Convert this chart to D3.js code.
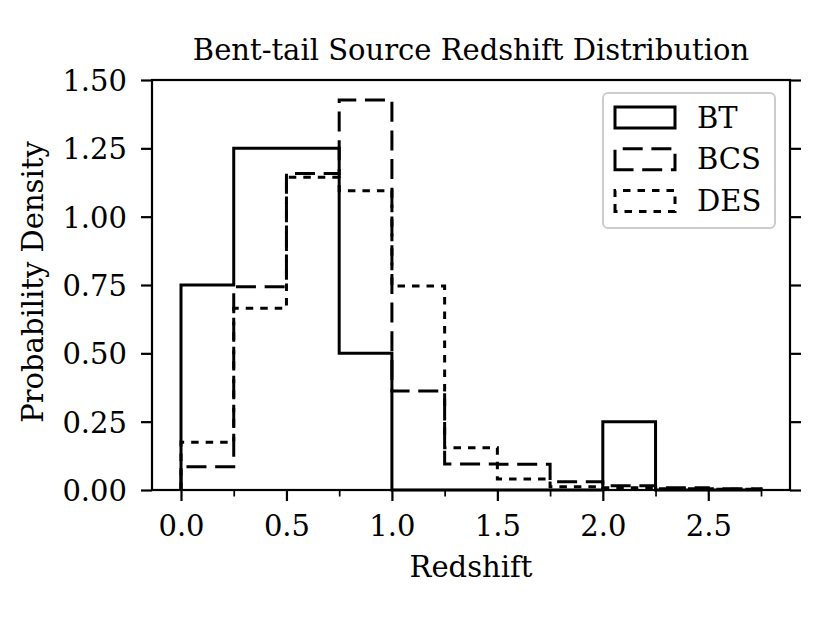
<!DOCTYPE html>
<html>
<head>
<meta charset="utf-8">
<script src="https://cdn.jsdelivr.net/npm/d3@7"></script>
<style>
  html, body { margin: 0; padding: 0; background: #fff; }
  text { font-family: "DejaVu Serif", serif; fill: #000; }
</style>
</head>
<body>
<svg id="chart" width="830" height="627"></svg>
<script>
// ---- data ----
const binEdges = [0, 0.25, 0.5, 0.75, 1.0, 1.25, 1.5, 1.75, 2.0, 2.25, 2.5, 2.75];
const seriesNames = ["BT", "BCS", "DES"];
const btValues  = [0.75, 1.25, 1.25, 0.5, 0, 0, 0, 0, 0.25, 0, 0];
const bcsValues = [0.085, 0.744, 1.158, 1.427, 0.362, 0.095, 0.094, 0.030, 0.016, 0.008, 0.005];
const desValues = [0.175, 0.665, 1.144, 1.095, 0.746, 0.155, 0.040, 0.012, 0.008, 0.005, 0.003];
const xTickValues = [0.0, 0.5, 1.0, 1.5, 2.0, 2.5];
const xMinorTickValues = [0.25, 0.75, 1.25, 1.75, 2.25, 2.75];
const yTickValues = [0.00, 0.25, 0.50, 0.75, 1.00, 1.25, 1.50];
const titleText = "Bent-tail Source Redshift Distribution";
const xLabelText = "Redshift";
const yLabelText = "Probability Density";

// ---- layout ----
const svg = d3.select("#chart");
const L = 152, R = 790, T = 80, B = 490;
const FS = 29;
const span = binEdges[binEdges.length - 1] - binEdges[0];
const x = d3.scaleLinear().domain([binEdges[0] - 0.05 * span, binEdges[binEdges.length - 1] + 0.05 * span]).range([L, R]);
const y = d3.scaleLinear().domain([0, 1.5]).range([B, T]);

const styles = {
  BT:  { dash: null },
  BCS: { dash: "20,8.7" },
  DES: { dash: "7.5,7" }
};
const series = [
  { name: "BT", values: btValues },
  { name: "BCS", values: bcsValues },
  { name: "DES", values: desValues }
];

// step outline path
function stepPoints(values) {
  const pts = [[binEdges[0], 0]];
  values.forEach((v, i) => {
    pts.push([binEdges[i], v]);
    pts.push([binEdges[i + 1], v]);
  });
  pts.push([binEdges[binEdges.length - 1], 0]);
  return pts;
}
const line = d3.line().x(d => x(d[0])).y(d => y(d[1]));

const plot = svg.append("g");
series.forEach(s => {
  plot.append("path")
    .attr("d", line(stepPoints(s.values)))
    .attr("fill", "none")
    .attr("stroke", "#000")
    .attr("stroke-width", 3)
    .attr("stroke-linejoin", "miter")
    .attr("stroke-dasharray", styles[s.name].dash);
});

// ---- axes ----
const axisW = 2.2;
const xAxis = svg.append("g").attr("transform", `translate(0,${B})`)
  .call(d3.axisBottom(x).tickValues(xTickValues).tickFormat(d3.format(".1f")).tickSize(11).tickPadding(14));
const xMinor = svg.append("g").attr("transform", `translate(0,${B})`)
  .call(d3.axisBottom(x).tickValues(xMinorTickValues).tickFormat("").tickSize(6.5));
const yAxis = svg.append("g").attr("transform", `translate(${L},0)`)
  .call(d3.axisLeft(y).tickValues(yTickValues).tickFormat(d3.format(".2f")).tickSize(11).tickPadding(14));
const yRight = svg.append("g").attr("transform", `translate(${R},0)`)
  .call(d3.axisRight(y).tickValues(yTickValues).tickFormat("").tickSize(11));

[xAxis, xMinor, yAxis, yRight].forEach(g => {
  g.select(".domain").remove();
  g.selectAll(".tick line").attr("stroke", "#000").attr("stroke-width", axisW);
  g.selectAll(".tick text").style("font-family", "DejaVu Serif").style("font-size", FS + "px").attr("fill", "#000");
});
xMinor.selectAll(".tick line").attr("stroke-width", 1.7);
yAxis.selectAll(".tick text").attr("dy", "0.36em");

// spines
svg.append("rect")
  .attr("x", L).attr("y", T).attr("width", R - L).attr("height", B - T)
  .attr("fill", "none").attr("stroke", "#000").attr("stroke-width", axisW);

// ---- legend ----
const lg = svg.append("g");
lg.append("rect")
  .attr("x", 603).attr("y", 93).attr("width", 172).attr("height", 135)
  .attr("rx", 5).attr("ry", 5)
  .attr("fill", "#fff").attr("fill-opacity", 0.8)
  .attr("stroke", "#cccccc").attr("stroke-width", 2);
series.forEach((s, i) => {
  const cy = 117.5 + i * 41.7;
  lg.append("path")
    .attr("d", `M615,${cy + 10.5} L615,${cy - 10.5} L675,${cy - 10.5} L675,${cy + 10.5} Z`)
    .attr("fill", "none").attr("stroke", "#000").attr("stroke-width", 3)
    .attr("stroke-dasharray", styles[s.name].dash);
  lg.append("text")
    .attr("x", 697).attr("y", cy + 10)
    .style("font-size", FS + "px")
    .text(s.name);
});

// ---- titles ----
svg.append("text")
  .attr("x", (L + R) / 2).attr("y", 60)
  .attr("text-anchor", "middle")
  .style("font-size", FS + "px")
  .text(titleText);
svg.append("text")
  .attr("x", (L + R) / 2).attr("y", 577)
  .attr("text-anchor", "middle")
  .style("font-size", FS + "px")
  .text(xLabelText);
svg.append("text")
  .attr("transform", `translate(43,${(T + B) / 2 - 3}) rotate(-90)`)
  .attr("text-anchor", "middle")
  .style("font-size", FS + "px")
  .text(yLabelText);
</script>
</body>
</html>
